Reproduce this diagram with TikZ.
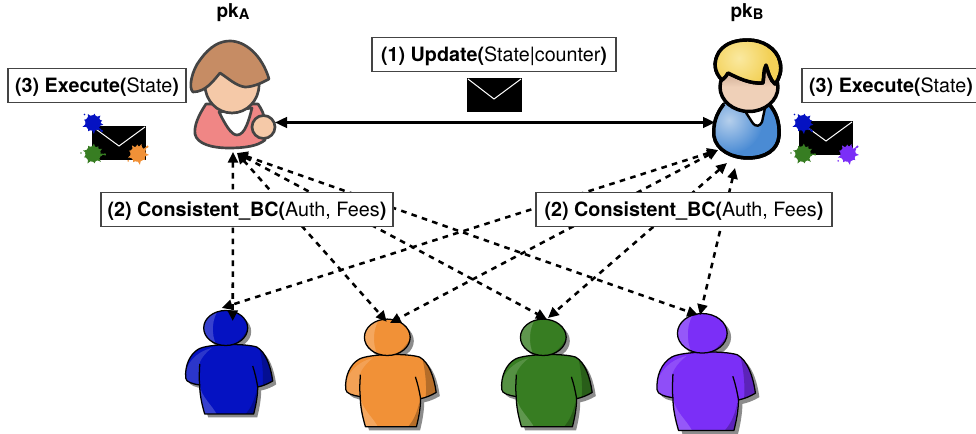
\documentclass[tikz,border=0pt]{standalone}
\usepackage{fontspec}
\setmainfont{TeX Gyre Heros}
\usetikzlibrary{arrows.meta}
\definecolor{cblue}{HTML}{0512C2}
\definecolor{corange}{HTML}{F19137}
\definecolor{cgreen}{HTML}{377D22}
\definecolor{cpurple}{HTML}{7B2FF7}
\definecolor{wline}{HTML}{444444}
\definecolor{wpink}{HTML}{F08685}
\definecolor{whair}{HTML}{C68C64}
\definecolor{wface}{HTML}{F5C9A8}
\definecolor{mblue}{HTML}{4A8BD4}
\definecolor{mlight}{HTML}{B5CFEC}
\definecolor{mhair}{HTML}{F3D158}
\definecolor{mhairl}{HTML}{FAE9A0}
\definecolor{mface}{HTML}{EFD0B8}
\definecolor{mfaced}{HTML}{B9967E}
\tikzset{
  labelbox/.style={draw=wline,fill=white,line width=.8pt,minimum height=26pt,inner sep=0pt,
    text height=13.2pt,text depth=2pt,font=\fontsize{14.8}{17}\selectfont},
  pklabel/.style={font=\fontsize{14.3}{17}\selectfont\bfseries,inner sep=0pt},
  solidlink/.style={line width=1.8pt,{Triangle[length=9pt,width=8pt]}-{Triangle[length=9pt,width=8pt]}},
  dashlink/.style={line width=1.9pt,dash pattern=on 4.2pt off 4pt,
    {Triangle[length=8pt,width=7.5pt]}-{Triangle[length=8pt,width=7.5pt]}},
  womanline/.style={draw=wline,line width=2pt,line join=round},
  manline/.style={draw=black,line width=2.6pt,line join=round},
}
\newcommand{\crowdbody}{(-21,86) .. controls (-24,76) and (-26,66) .. (-26,57)
  .. controls (-33,56) and (-40,54) .. (-40,50)
  .. controls (-41,38) and (-36,26) .. (-27,21)
  .. controls (-18,16) and (18,15) .. (31,19)
  .. controls (40,24) and (45,38) .. (47,53)
  .. controls (42,56) and (37,58) .. (32,59)
  .. controls (32,68) and (30,78) .. (28,86) -- cycle}
\newcommand{\crowdicon}[4]{% cx, cy, scale, colour
  \begin{scope}[shift={(#1,#2)},scale=#3]
    \begin{scope}[shift={(3.5,3.5)}]
      \fill[black!45] \crowdbody;
      \fill[black!45] (0,0) ellipse (22 and 17.5);
    \end{scope}
    \fill[#4] \crowdbody;
    \begin{scope}
      \clip \crowdbody;
      \fill[#4!85!white] (-42,52) .. controls (-40,35) and (-30,24) .. (-14,20) .. controls (-24,28) and (-28,36) .. (-26,40) -- (-26,57) -- cycle;
      \fill[#4!80!white] (-26,57) .. controls (-24,70) and (-14,76) .. (-8,88) -- (-24,90) -- cycle;
      \fill[#4!75!black] (33,17) .. controls (36,30) and (38,42) .. (37,58) -- (50,56) -- (45,25) -- cycle;
      \fill[#4!75!black] (28,88) -- (31,62) .. controls (28,75) and (24,82) .. (18,88) -- cycle;
    \end{scope}
    \draw[black,line width=.95pt,line join=round] \crowdbody;
    \fill[#4] (0,0) ellipse (22 and 17.5);
    \begin{scope}
      \clip (0,0) ellipse (22 and 17.5);
      \fill[#4!80!white] (-24,-20) -- (-6,-20) .. controls (-14,-10) and (-15,6) .. (-9,18) -- (-24,18) -- cycle;
      \fill[#4!75!black] (24,-4) .. controls (20,8) and (12,14) .. (6,18) -- (24,18) -- cycle;
    \end{scope}
    \draw[black,line width=.95pt] (0,0) ellipse (22 and 17.5);
    \draw[black,line width=.95pt] (-26,57) .. controls (-27,48) and (-26,42) .. (-26,36);
    \draw[black,line width=.95pt] (32,59) .. controls (31,52) and (29,44) .. (27,38);
  \end{scope}}
\newcommand{\splat}[4]{% x, y, colour, rotation
  \begin{scope}[shift={(#1,#2)},rotate=#4]
    \fill[#3] (0,0) circle (7.8);
    \foreach \a/\r in {10/10.5,50/9.5,85/11,120/9.5,160/11,200/9.5,240/10.5,280/9.5,315/10.5,345/9.5}{
      \fill[#3] (\a-14:7) -- (\a:\r) -- (\a+14:7) -- cycle;
    }
    \fill[#3] (42:12) circle (1.2);
    \draw[#3,line width=.9pt] (42:8) -- (42:12);
    \fill[#3] (225:12) circle (.9);
  \end{scope}}
\newcommand{\envelope}[6]{% x1,y1,x2,y2, vx, vy
  \fill[black] (#1,#2) rectangle (#3,#4);
  \draw[white,line width=.75pt] (#1+1,#2+1) -- (#5,#6) -- (#3-1,#2+1);}
\begin{document}
\begin{tikzpicture}[x=.75pt,y=-.75pt]
\useasboundingbox (0,0) rectangle (976,434);
% crowd
\crowdicon{225.7}{328}{1}{cblue}
\crowdicon{387.3}{337.3}{1.04}{corange}
\crowdicon{543.3}{337.3}{1.04}{cgreen}
\crowdicon{702.3}{333.3}{1.13}{cpurple}
% woman
\path[womanline,fill=wpink] (206,104) .. controls (198,116) and (194,126) .. (195,134)
  .. controls (197,144) and (212,148) .. (229,148) .. controls (245,148) and (258,146) .. (265,140)
  .. controls (266,125) and (266,115) .. (258,104) -- cycle;
\path[womanline,fill=white] (219,112) .. controls (225,124) and (231,135) .. (237,135)
  .. controls (245,135) and (249,120) .. (252,108) -- cycle;
\path[womanline,fill=wface] (232,85) ellipse (27 and 28);
\path[womanline,fill=whair] (193,92) .. controls (188,88) and (192,70) .. (200,60)
  .. controls (210,46) and (220,41) .. (230,41) .. controls (245,41) and (262,55) .. (269,79)
  .. controls (260,84) and (252,87) .. (245,87) .. controls (236,86) and (228,78) .. (220,73)
  .. controls (214,80) and (206,92) .. (193,92) -- cycle;
\path[womanline,fill=wface] (263.5,127) ellipse (11.5 and 11.5);
% man
\path[manline,fill=mblue] (724,104) .. controls (716,114) and (713,124) .. (714,136)
  .. controls (716,150) and (732,158) .. (748,158) .. controls (765,158) and (778,150) .. (779,136)
  .. controls (780,122) and (776,112) .. (769,104) -- cycle;
\begin{scope}
  \clip (724,104) .. controls (716,114) and (713,124) .. (714,136)
  .. controls (716,150) and (732,158) .. (748,158) .. controls (765,158) and (778,150) .. (779,136)
  .. controls (780,122) and (776,112) .. (769,104) -- cycle;
  \shade[inner color=mlight,outer color=mblue] (729,120) circle (34);
\end{scope}
\path[manline] (724,104) .. controls (716,114) and (713,124) .. (714,136)
  .. controls (716,150) and (732,158) .. (748,158) .. controls (765,158) and (778,150) .. (779,136)
  .. controls (780,122) and (776,112) .. (769,104);
\path[manline,line width=1.8pt,fill=white] (745,111) -- (752,122) .. controls (756,128) and (760,126) .. (762,122) -- (765,108) -- cycle;
\shade[top color=mfaced,bottom color=mface,middle color=mface] (749,87) ellipse (29 and 24.5);
\draw[manline] (749,87) ellipse (29 and 24.5);
\path[manline,fill=mhair] (722,80) .. controls (714,72) and (713,62) .. (719,52)
  .. controls (726,42) and (738,40) .. (748,40) .. controls (762,40) and (777,48) .. (780,62)
  .. controls (782,70) and (780,78) .. (775,84) .. controls (770,80) and (768,72) .. (766,65)
  .. controls (763,70) and (764,78) .. (763,83) .. controls (750,84) and (738,78) .. (728,73)
  .. controls (726,76) and (725,78) .. (722,80) -- cycle;
\begin{scope}
  \clip (722,80) .. controls (714,72) and (713,62) .. (719,52)
  .. controls (726,42) and (738,40) .. (748,40) .. controls (762,40) and (777,48) .. (780,62)
  .. controls (782,70) and (780,78) .. (775,84) .. controls (770,80) and (768,72) .. (766,65)
  .. controls (763,70) and (764,78) .. (763,83) .. controls (750,84) and (738,78) .. (728,73)
  .. controls (726,76) and (725,78) .. (722,80) -- cycle;
  \shade[inner color=mhairl,outer color=mhair] (739,58) circle (30);
\end{scope}
\path[manline] (722,80) .. controls (714,72) and (713,62) .. (719,52)
  .. controls (726,42) and (738,40) .. (748,40) .. controls (762,40) and (777,48) .. (780,62)
  .. controls (782,70) and (780,78) .. (775,84) .. controls (770,80) and (768,72) .. (766,65)
  .. controls (763,70) and (764,78) .. (763,83) .. controls (750,84) and (738,78) .. (728,73)
  .. controls (726,76) and (725,78) .. (722,80) -- cycle;
% envelopes
\envelope{467}{78}{522}{112}{494}{99}
\envelope{92}{126}{146}{160}{119}{146}
\envelope{799}{121}{853}{155}{826}{141}
\splat{93}{123}{cblue}{0}
\splat{93}{154}{cgreen}{40}
\splat{138}{154}{corange}{80}
\splat{803}{123}{cblue}{0}
\splat{803}{154}{cgreen}{40}
\splat{848}{154}{cpurple}{80}
% connector anchors
\coordinate (aHand) at (275,122.5);
\coordinate (bSide) at (715,122.5);
\coordinate (aFootV) at (233,152);
\coordinate (aFoot) at (237,153);
\coordinate (bFootA) at (718,150);
\coordinate (bFootB) at (727,163);
\coordinate (bFootC) at (735,168);
\coordinate (blueUp) at (232.7,321);
\coordinate (blueSide) at (221.7,308);
\coordinate (orangeA) at (386.7,321.7);
\coordinate (orangeB) at (390,323);
\coordinate (greenA) at (546.7,319);
\coordinate (greenB) at (548,318);
\coordinate (purpleA) at (698,315);
\coordinate (purpleB) at (700,315);
% connectors
\draw[solidlink] (aHand) -- (bSide);
\draw[dashlink] (aFootV) -- (blueUp);
\draw[dashlink] (aFoot) -- (orangeA);
\draw[dashlink] (aFoot) -- (greenA);
\draw[dashlink] (aFoot) -- (purpleA);
\draw[dashlink] (bFootA) -- (blueSide);
\draw[dashlink] (bFootA) -- (orangeB);
\draw[dashlink] (bFootB) -- (greenB);
\draw[dashlink] (bFootC) -- (purpleB);
% labels
\node[pklabel] (pka) at (233,13) {pk{\fontsize{11}{13}\selectfont\raisebox{-1pt}{A}}};
\node[pklabel] (pkb) at (747,13) {pk{\fontsize{11}{13}\selectfont\raisebox{-1pt}{B}}};
\node[labelbox,minimum width=133.5pt] (exa) at (97,85.5) {\textbf{(3) Execute(}State\textbf{)}};
\node[labelbox,minimum width=133.5pt] (exb) at (891,85.5) {\textbf{(3) Execute(}State\textbf{)}};
\node[labelbox,minimum width=183pt] (upd) at (494,54.5) {\textbf{(1) Update(}State|counter\textbf{)}};
\node[labelbox,minimum width=219pt] (cba) at (247,209.5) {\textbf{(2) Consistent\_BC(}Auth, Fees\textbf{)}};
\node[labelbox,minimum width=222pt] (cbb) at (684,209.5) {\textbf{(2) Consistent\_BC(}Auth, Fees\textbf{)}};
\end{tikzpicture}
\end{document}
